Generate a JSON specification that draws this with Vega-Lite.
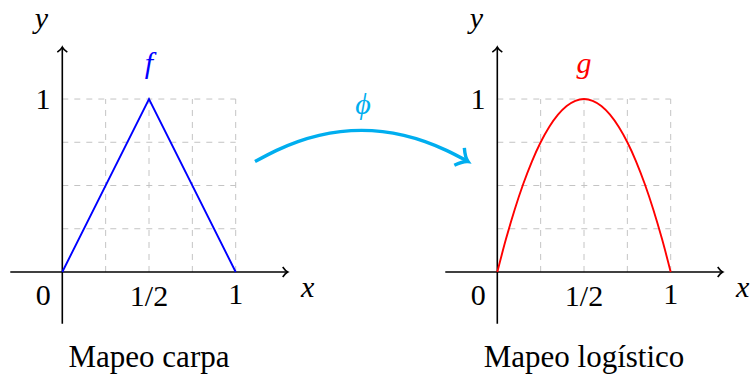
{
  "$schema": "https://vega.github.io/schema/vega-lite/v6.json",
  "width": 750,
  "height": 374,
  "autosize": {"type": "fit", "contains": "padding"},
  "padding": 0,
  "config": {"view": {"stroke": null}, "font": "Liberation Serif", "mark": {"font": "Liberation Serif"}},
  "datasets": {
    "grid": [
      {"x": 0.25, "x2": 0.25, "y": 0, "y2": 1},
      {"x": 0.5, "x2": 0.5, "y": 0, "y2": 1},
      {"x": 0.75, "x2": 0.75, "y": 0, "y2": 1},
      {"x": 1, "x2": 1, "y": 0, "y2": 1},
      {"x": 0, "x2": 1, "y": 0.25, "y2": 0.25},
      {"x": 0, "x2": 1, "y": 0.5, "y2": 0.5},
      {"x": 0, "x2": 1, "y": 0.75, "y2": 0.75},
      {"x": 0, "x2": 1, "y": 1, "y2": 1}
    ],
    "axes": [
      {"x": -0.3, "x2": 1.3, "y": 0, "y2": 0},
      {"x": 0, "x2": 0, "y": -0.3, "y2": 1.3}
    ],
    "xTip": [{"x": 1.3, "y": 0}],
    "yTip": [{"x": 0, "y": 1.3}],
    "ticks": [
      {"x": -0.11, "y": -0.192, "label": "0"},
      {"x": 0.5, "y": -0.198, "label": "1/2"},
      {"x": 1.0, "y": -0.186, "label": "1"},
      {"x": -0.111, "y": 0.944, "label": "1"}
    ],
    "axisNames": [
      {"x": -0.12, "y": 1.411, "label": "y"},
      {"x": 1.415, "y": -0.146, "label": "x"}
    ],
    "tent": [
      {"x": 0, "y": 0},
      {"x": 0.5, "y": 1},
      {"x": 1, "y": 0}
    ],
    "logistic": [
      {"x": 0, "y": 0},
      {"x": 0.05, "y": 0.19},
      {"x": 0.1, "y": 0.36},
      {"x": 0.15, "y": 0.51},
      {"x": 0.2, "y": 0.64},
      {"x": 0.25, "y": 0.75},
      {"x": 0.3, "y": 0.84},
      {"x": 0.35, "y": 0.91},
      {"x": 0.4, "y": 0.96},
      {"x": 0.45, "y": 0.99},
      {"x": 0.5, "y": 1},
      {"x": 0.55, "y": 0.99},
      {"x": 0.6, "y": 0.96},
      {"x": 0.65, "y": 0.91},
      {"x": 0.7, "y": 0.84},
      {"x": 0.75, "y": 0.75},
      {"x": 0.8, "y": 0.64},
      {"x": 0.85, "y": 0.51},
      {"x": 0.9, "y": 0.36},
      {"x": 0.95, "y": 0.19},
      {"x": 1, "y": 0}
    ],
    "phiArc": [
      {"x": 1.1113, "y": 0.6384},
      {"x": 1.2359, "y": 0.7033},
      {"x": 1.3587, "y": 0.7539},
      {"x": 1.4815, "y": 0.7899},
      {"x": 1.6038, "y": 0.8115},
      {"x": 1.7255, "y": 0.8188},
      {"x": 1.8472, "y": 0.8115},
      {"x": 1.9694, "y": 0.7899},
      {"x": 2.0923, "y": 0.7539},
      {"x": 2.2151, "y": 0.7033},
      {"x": 2.3281, "y": 0.6453}
    ],
    "phiTip": [{"x": 2.3397, "y": 0.6384}],
    "phiLabel": [{"x": 1.734, "y": 0.912, "label": "ϕ"}],
    "fLabel": [{"x": 0.5, "y": 1.152, "label": "f"}],
    "gLabel": [{"x": 0.5, "y": 1.152, "label": "g"}],
    "captionTent": [{"x": 0.5, "y": -0.5496, "label": "Mapeo carpa"}],
    "captionLogistic": [{"x": 0.5, "y": -0.5496, "label": "Mapeo logístico"}]
  },
  "resolve": {"scale": {"x": "independent"}},
  "layer": [
    {
      "encoding": {
        "x": {"field": "x", "type": "quantitative", "axis": null,
              "scale": {"domain": [-0.3593, 3.966], "nice": false, "zero": false}},
        "y": {"field": "y", "type": "quantitative", "axis": null,
              "scale": {"domain": [-0.5842, 1.5727], "nice": false, "zero": false}}
      },
      "layer": [
        {
          "data": {"name": "grid"},
          "mark": {"type": "rule", "stroke": "#c4c4c4", "strokeWidth": 1, "strokeDash": [6, 6]},
          "encoding": {"x2": {"field": "x2"}, "y2": {"field": "y2"}}
        },
        {
          "data": {"name": "axes"},
          "mark": {"type": "rule", "stroke": "black", "strokeWidth": 1.6},
          "encoding": {"x2": {"field": "x2"}, "y2": {"field": "y2"}}
        },
        {
          "data": {"name": "xTip"},
          "mark": {"type": "point", "shape": "M-1,-1 Q-0.45,-0.2 0,0 Q-0.45,0.2 -1,1", "filled": false,
                   "size": 100, "angle": 0, "stroke": "black", "strokeWidth": 1.6, "opacity": 1}
        },
        {
          "data": {"name": "yTip"},
          "mark": {"type": "point", "shape": "M-1,-1 Q-0.45,-0.2 0,0 Q-0.45,0.2 -1,1", "filled": false,
                   "size": 100, "angle": -90, "stroke": "black", "strokeWidth": 1.6, "opacity": 1}
        },
        {
          "data": {"name": "tent"},
          "mark": {"type": "line", "stroke": "#0000ff", "strokeWidth": 1.9}
        },
        {
          "data": {"name": "phiArc"},
          "mark": {"type": "line", "stroke": "#00aeef", "strokeWidth": 3.4, "interpolate": "monotone"}
        },
        {
          "data": {"name": "phiTip"},
          "mark": {"type": "point", "shape": "M-1,-1 Q-0.45,-0.2 0,0 Q-0.45,0.2 -1,1", "filled": false,
                   "size": 400, "angle": 30, "stroke": "#00aeef", "strokeWidth": 3.4, "opacity": 1}
        },
        {
          "data": {"name": "ticks"},
          "mark": {"type": "text", "font": "Liberation Serif", "fontSize": 30, "align": "center",
                   "baseline": "alphabetic", "color": "black"},
          "encoding": {"text": {"field": "label"}}
        },
        {
          "data": {"name": "axisNames"},
          "mark": {"type": "text", "font": "Liberation Serif", "fontStyle": "italic", "fontSize": 30,
                   "align": "center", "baseline": "alphabetic", "color": "black"},
          "encoding": {"text": {"field": "label"}}
        },
        {
          "data": {"name": "fLabel"},
          "mark": {"type": "text", "font": "Liberation Serif", "fontStyle": "italic", "fontSize": 30,
                   "align": "center", "baseline": "alphabetic", "color": "#0000ff"},
          "encoding": {"text": {"field": "label"}}
        },
        {
          "data": {"name": "phiLabel"},
          "mark": {"type": "text", "font": "Liberation Serif", "fontStyle": "italic", "fontSize": 30,
                   "align": "center", "baseline": "alphabetic", "color": "#00aeef"},
          "encoding": {"text": {"field": "label"}}
        },
        {
          "data": {"name": "captionTent"},
          "mark": {"type": "text", "font": "Liberation Serif", "fontSize": 31, "align": "center",
                   "baseline": "alphabetic", "color": "black"},
          "encoding": {"text": {"field": "label"}}
        }
      ]
    },
    {
      "encoding": {
        "x": {"field": "x", "type": "quantitative", "axis": null,
              "scale": {"domain": [-2.8679, 1.4573], "nice": false, "zero": false}},
        "y": {"field": "y", "type": "quantitative", "axis": null,
              "scale": {"domain": [-0.5842, 1.5727], "nice": false, "zero": false}}
      },
      "layer": [
        {
          "data": {"name": "grid"},
          "mark": {"type": "rule", "stroke": "#c4c4c4", "strokeWidth": 1, "strokeDash": [6, 6]},
          "encoding": {"x2": {"field": "x2"}, "y2": {"field": "y2"}}
        },
        {
          "data": {"name": "axes"},
          "mark": {"type": "rule", "stroke": "black", "strokeWidth": 1.6},
          "encoding": {"x2": {"field": "x2"}, "y2": {"field": "y2"}}
        },
        {
          "data": {"name": "xTip"},
          "mark": {"type": "point", "shape": "M-1,-1 Q-0.45,-0.2 0,0 Q-0.45,0.2 -1,1", "filled": false,
                   "size": 100, "angle": 0, "stroke": "black", "strokeWidth": 1.6, "opacity": 1}
        },
        {
          "data": {"name": "yTip"},
          "mark": {"type": "point", "shape": "M-1,-1 Q-0.45,-0.2 0,0 Q-0.45,0.2 -1,1", "filled": false,
                   "size": 100, "angle": -90, "stroke": "black", "strokeWidth": 1.6, "opacity": 1}
        },
        {
          "data": {"name": "logistic"},
          "mark": {"type": "line", "stroke": "#ff0000", "strokeWidth": 1.9, "interpolate": "monotone"}
        },
        {
          "data": {"name": "ticks"},
          "mark": {"type": "text", "font": "Liberation Serif", "fontSize": 30, "align": "center",
                   "baseline": "alphabetic", "color": "black"},
          "encoding": {"text": {"field": "label"}}
        },
        {
          "data": {"name": "axisNames"},
          "mark": {"type": "text", "font": "Liberation Serif", "fontStyle": "italic", "fontSize": 30,
                   "align": "center", "baseline": "alphabetic", "color": "black"},
          "encoding": {"text": {"field": "label"}}
        },
        {
          "data": {"name": "gLabel"},
          "mark": {"type": "text", "font": "Liberation Serif", "fontStyle": "italic", "fontSize": 30,
                   "align": "center", "baseline": "alphabetic", "color": "#ff0000"},
          "encoding": {"text": {"field": "label"}}
        },
        {
          "data": {"name": "captionLogistic"},
          "mark": {"type": "text", "font": "Liberation Serif", "fontSize": 31, "align": "center",
                   "baseline": "alphabetic", "color": "black"},
          "encoding": {"text": {"field": "label"}}
        }
      ]
    }
  ]
}
